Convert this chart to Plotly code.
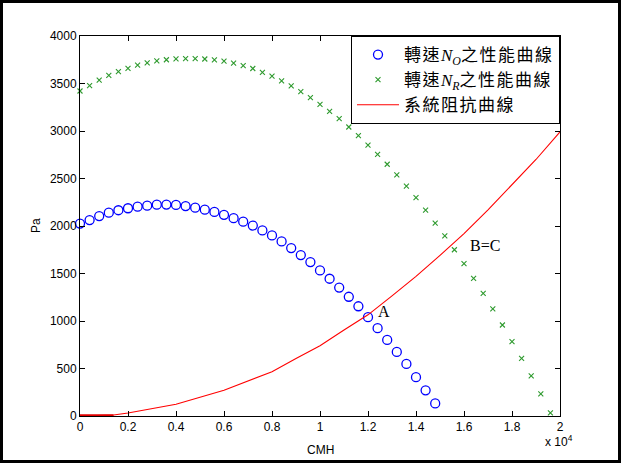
import plotly.graph_objects as go

# ---- data ----
q_blue = [0, 400, 800, 1200, 1600, 2000, 2400, 2800, 3200, 3600, 4000, 4400, 4800,
          5200, 5600, 6000, 6400, 6800, 7200, 7600, 8000, 8400, 8800, 9200, 9600,
          10000, 10400, 10800, 11200, 11600, 12000, 12400, 12800, 13200, 13600,
          14000, 14400, 14800]
p_blue = [2026, 2062, 2104, 2140, 2166, 2187, 2203, 2214, 2224, 2226, 2222, 2210, 2193,
          2172, 2148, 2118, 2082, 2046, 2005, 1953, 1901, 1838, 1768, 1694, 1620,
          1532, 1445, 1352, 1255, 1155, 1040, 924, 801, 675, 548,
          409, 270, 132]

q_green = [0, 400, 800, 1200, 1600, 2000, 2400, 2800, 3200, 3600, 4000, 4400, 4800,
           5200, 5600, 6000, 6400, 6800, 7200, 7600, 8000, 8400, 8800, 9200, 9600,
           10000, 10400, 10800, 11200, 11600, 12000, 12400, 12800, 13200, 13600,
           14000, 14400, 14800, 15200, 15600, 16000, 16400, 16800, 17200, 17600,
           18000, 18400, 18800, 19200, 19600]
p_green = [3421, 3477, 3535, 3586, 3625, 3660, 3693, 3718, 3738, 3750, 3760, 3762, 3762,
           3758, 3748, 3735, 3714, 3688, 3658, 3618, 3577, 3527, 3474, 3414, 3351,
           3281, 3206, 3130, 3042, 2952, 2852, 2754, 2650, 2538, 2420,
           2298, 2168, 2030, 1896, 1750, 1605, 1448, 1290, 1128, 958,
           784, 606, 422, 232, 32]

q_red = [0, 1400, 2000, 4000, 6000, 7000, 8000, 9000, 10000, 11000, 12000, 13000,
         14000, 15000, 16000, 17000, 18000, 19000, 20000]
p_red = [0, 10, 32, 124, 272, 372, 465, 605, 740, 905, 1065, 1265,
         1470, 1690, 1920, 2170, 2430, 2700, 2990]

q_red_base = [0, 1400]
p_red_base = [8, 8]

x_tickvals = [0, 2000, 4000, 6000, 8000, 10000, 12000, 14000, 16000, 18000, 20000]
x_ticktext = ["0", "0.2", "0.4", "0.6", "0.8", "1", "1.2", "1.4", "1.6", "1.8", "2"]
y_tickvals = [0, 500, 1000, 1500, 2000, 2500, 3000, 3500, 4000]

SERIF_I = "font-family:'Liberation Serif';font-style:italic"
SP = "letter-spacing:1.5px"
names = ["<span style=\"%s\">轉速</span><span style=\"%s\">N</span><sub><span style=\"%s\">O</span></sub><span style=\"%s\">之性能曲線</span>" % (SP, SERIF_I, SERIF_I, SP),
         "<span style=\"%s\">轉速</span><span style=\"%s\">N</span><sub><span style=\"%s\">R</span></sub><span style=\"%s\">之性能曲線</span>" % (SP, SERIF_I, SERIF_I, SP),
         "<span style=\"%s\">系統阻抗曲線</span>" % SP]

# ---- layout geometry ----
W, H = 624, 463
L, R, T, B = 80, 64, 36, 47
pw, ph = W - L - R, H - T - B


def px_x(px):
    return (px - L) / pw


def px_y(py):
    return (H - B - py) / ph


fig = go.Figure()
fig.add_trace(go.Scatter(x=q_blue, y=p_blue, mode="markers", name=names[0],
                         marker=dict(symbol="circle-open", size=9, color="#0000ff",
                                     line=dict(width=1.3, color="#0000ff")),
                         cliponaxis=False))
fig.add_trace(go.Scatter(x=q_green, y=p_green, mode="markers", name=names[1],
                         marker=dict(symbol="x-thin-open", size=5, color="#2e9a2e",
                                     line=dict(width=1.1, color="#2e9a2e")),
                         cliponaxis=False))
fig.add_trace(go.Scatter(x=q_red, y=p_red, mode="lines", name=names[2],
                         line=dict(color="#ff0000", width=1.1)))
fig.add_trace(go.Scatter(x=q_red_base, y=p_red_base, mode="lines", showlegend=False,
                         line=dict(color="#e00000", width=2.2), hoverinfo="skip"))

axis_common = dict(showline=True, linecolor="black", linewidth=1, mirror="allticks",
                   ticks="inside", ticklen=5, tickcolor="black", showgrid=False,
                   zeroline=False,
                   tickfont=dict(family="Liberation Sans", size=12, color="black"))

fig.update_layout(
    width=W, height=H,
    margin=dict(l=L, r=R, t=T, b=B, pad=0),
    paper_bgcolor="white", plot_bgcolor="white",
    xaxis=dict(range=[0, 20000], tickvals=x_tickvals, ticktext=x_ticktext, **axis_common),
    yaxis=dict(range=[0, 4000], tickvals=y_tickvals, **axis_common),
    legend=dict(x=1, y=1, xanchor="right", yanchor="top", bgcolor="white",
                bordercolor="black", borderwidth=1, itemwidth=42,
                font=dict(family="Noto Sans CJK TC", size=17, color="black"),
                tracegroupgap=0, itemsizing="trace"),
    showlegend=True,
    annotations=[
        dict(x=12350, y=1100, xref="x", yref="y", text="A", showarrow=False,
             font=dict(family="Liberation Serif", size=16, color="black"),
             xanchor="left", yanchor="middle"),
        dict(x=16150, y=1800, xref="x", yref="y", text="B=C", showarrow=False,
             font=dict(family="Liberation Serif", size=16, color="black"),
             xanchor="left", yanchor="middle"),
        dict(x=0.5, y=px_y(450), xref="paper", yref="paper", text="CMH", showarrow=False,
             font=dict(family="Liberation Sans", size=12, color="black"),
             xanchor="center", yanchor="middle"),
        dict(x=px_x(36), y=0.5, xref="paper", yref="paper", text="Pa", showarrow=False,
             textangle=-90,
             font=dict(family="Liberation Sans", size=12, color="black"),
             xanchor="center", yanchor="middle"),
        dict(x=px_x(543), y=px_y(441), xref="paper", yref="paper",
             text="x 10<sup>4</sup>", showarrow=False,
             font=dict(family="Liberation Sans", size=12, color="black"),
             xanchor="left", yanchor="middle"),
    ],
    shapes=[
        dict(type="rect", xref="paper", yref="paper",
             x0=px_x(1.5), x1=px_x(619.5), y0=px_y(461.5), y1=px_y(1.5),
             line=dict(color="black", width=3), fillcolor="rgba(0,0,0,0)", layer="above"),
    ],
)

fig.write_html("out.html")
